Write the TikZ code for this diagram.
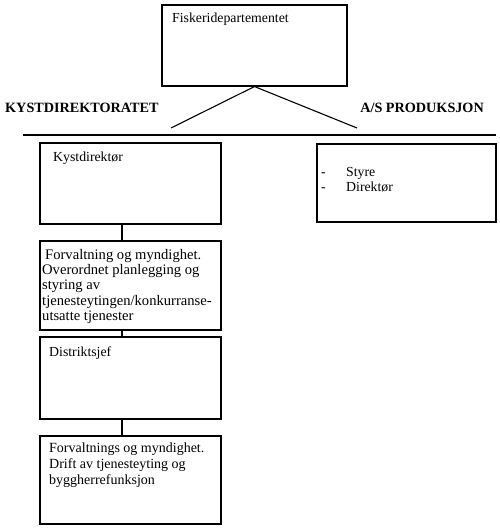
\documentclass[tikz,border=0pt]{standalone}
\usepackage{fontspec}
\setmainfont{Liberation Serif}
\begin{document}
\begin{tikzpicture}[x=1pt,y=-1pt,
  box/.style={draw,line width=1.1pt,rectangle,inner sep=0pt},
  txt/.style={anchor=base west,inner sep=0pt,font=\fontsize{13.8}{15}\selectfont},
  head/.style={anchor=base west,inner sep=0pt,font=\fontsize{14.2}{15}\selectfont\bfseries},
  conn/.style={line width=1.1pt}]
\useasboundingbox (0,0) rectangle (500,530);
% top
\node[box,minimum width=185pt,minimum height=81pt] (dep) at (254.5,45.5) {};
\node[txt] (deptxt) at (172,22) {Fiskeridepartementet};
\coordinate (legL) at (171,128);
\coordinate (legR) at (357,128);
\draw[conn] (legL) -- (dep.south) -- (legR);
\node[head] (kyst) at (5,112) {KYSTDIREKTORATET};
\node[head,anchor=base east] (as) at (484,112) {A/S PRODUKSJON};
\coordinate (hl) at (23,135);
\coordinate (hr) at (496,135);
\draw[conn] (hl) -- (hr);
% left column
\node[box,minimum width=181pt,minimum height=81pt] (k1) at (130.5,183.5) {};
\node[txt] (k1t) at (53,161) {Kystdirektør};
\node[box,minimum width=181pt,minimum height=89pt] (k2) at (130.5,285.5) {};
\node[txt] (k2t) at (42,259) {\parbox[t]{178pt}{\raggedright\fontsize{14.6}{15.4}\selectfont
 \hspace*{3pt}Forvaltning og myndighet.\\
 Overordnet planlegging og\\
 styring av\\
 tjenesteytingen/konkurranse-\\
 utsatte tjenester}};
\node[box,minimum width=181pt,minimum height=82pt] (k3) at (130.5,378) {};
\node[txt] (k3t) at (49,356) {Distriktsjef};
\node[box,minimum width=181pt,minimum height=88pt] (k4) at (130.5,480) {};
\node[txt] (k4t) at (49,452) {\parbox[t]{170pt}{\raggedright\fontsize{14}{16}\selectfont
 Forvaltnings og myndighet.\\
 Drift av tjenesteyting og\\
 byggherrefunksjon}};
\draw[conn] ([xshift=-8.5pt]k1.south) -- ([xshift=-8.5pt]k2.north);
\draw[conn] ([xshift=-8.5pt]k2.south) -- ([xshift=-8.5pt]k3.north);
\draw[conn] ([xshift=-8.5pt]k3.south) -- ([xshift=-8.5pt]k4.north);
% right
\node[box,minimum width=179pt,minimum height=78pt] (ap) at (406.5,183) {};
\node[txt] (ap1) at (321,176) {-};
\node[txt] (ap1t) at (346,176) {Styre};
\node[txt] (ap2) at (321,191) {-};
\node[txt] (ap2t) at (346,191) {Direktør};
\end{tikzpicture}
\end{document}
